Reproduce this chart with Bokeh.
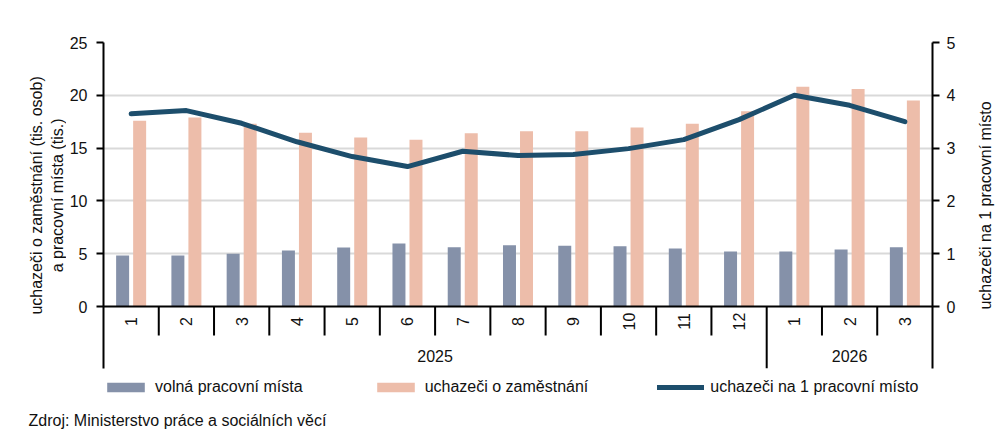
import math
from bokeh.plotting import figure
from bokeh.layouts import row, column
from bokeh.models import (Range1d, LinearAxis, FixedTicker, Span, Legend, LegendItem)
from bokeh.embed import file_html
from bokeh.resources import INLINE
from bokeh.core.properties import value

# ---------------- data ----------------
months = ["1", "2", "3", "4", "5", "6", "7", "8", "9", "10", "11", "12", "1", "2", "3"]
years = ["2025", "2026"]
year_counts = [12, 3]
vacancies = [4.83, 4.83, 5.0, 5.3, 5.59, 5.97, 5.6, 5.8, 5.75, 5.7, 5.5, 5.2, 5.2, 5.4, 5.6]
jobseekers = [17.6, 17.9, 17.3, 16.45, 16.0, 15.8, 16.4, 16.6, 16.6, 16.95, 17.3, 18.5, 20.8, 20.6, 19.5]
ratio = [3.65, 3.71, 3.47, 3.12, 2.84, 2.65, 2.94, 2.86, 2.88, 2.99, 3.16, 3.54, 4.0, 3.81, 3.5]
left_ticks = [0, 5, 10, 15, 20, 25]
right_ticks = [0, 1, 2, 3, 4, 5]
series_names = ["volná pracovní místa", "uchazeči o zaměstnání", "uchazeči na 1 pracovní místo"]
left_title = ["uchazeči o zaměstnání  (tis. osob)", "a pracovní místa  (tis.)"]
right_title = "uchazeči na 1 pracovní místo"
source_text = "Zdroj: Ministerstvo  práce a sociálních věcí"

# ---------------- styles ----------------
FONT = "Liberation Sans"
TXT = "#111111"
C_VAC = "#8591A9"
C_JOB = "#EDBDAA"
C_LINE = "#1D4E6C"
LINE_W = 5

# page geometry (px)
TOTAL_W, TOP_H, BOT_H = 1000, 372, 68
LW, RW = 66, 32
MW = TOTAL_W - LW - RW
PX_LEFT, PX_RIGHT, PX_TOP, PX_ZERO, PX_BOTTOM = 103, 932, 42, 306, 368
n = len(months)
ymax = left_ticks[-1]
rmax = right_ticks[-1]
ppu_y = (PX_ZERO - PX_TOP) / ymax
ybot = -(PX_BOTTOM - PX_ZERO) / ppu_y


def px_y(py):
    return (PX_ZERO - py) / ppu_y


def blank(w, h, x0, x1, y0, y1):
    f = figure(width=w, height=h, output_backend="svg", toolbar_location=None,
               title=None, x_range=Range1d(x0, x1), y_range=Range1d(y0, y1),
               x_axis_location=None, y_axis_location=None, min_border=0)
    f.outline_line_color = None
    f.grid.visible = False
    f.background_fill_color = "white"
    f.border_fill_color = "white"
    return f


# ---------------- main plot ----------------
p = figure(width=MW, height=TOP_H, output_backend="svg", toolbar_location=None,
           title=None, x_range=Range1d(0, n), y_range=Range1d(ybot, ymax),
           x_axis_location=None,
           min_border_left=PX_LEFT - LW, min_border_right=LW + MW - PX_RIGHT,
           min_border_top=PX_TOP, min_border_bottom=TOP_H - PX_BOTTOM)
p.outline_line_color = None
p.background_fill_color = "white"
p.border_fill_color = "white"
p.extra_y_ranges = {"r": Range1d(ybot * rmax / ymax, rmax)}


def style_axis(ax, ticks):
    ax.ticker = FixedTicker(ticks=ticks)
    ax.axis_line_color = "black"
    ax.axis_line_width = 2
    ax.major_tick_line_color = "black"
    ax.major_tick_line_width = 2
    ax.major_tick_in = 0
    ax.major_tick_out = 7
    ax.minor_tick_line_color = None
    ax.major_label_text_font = FONT
    ax.major_label_text_font_size = "16px"
    ax.major_label_text_color = TXT


style_axis(p.yaxis[0], left_ticks)
p.yaxis[0].major_label_standoff = 9
rax = LinearAxis(y_range_name="r")
style_axis(rax, right_ticks)
rax.major_label_standoff = 7
p.add_layout(rax, "right")

p.xgrid.visible = False
p.ygrid.ticker = FixedTicker(ticks=left_ticks[1:])
p.ygrid.grid_line_color = "#D9D9D9"
p.ygrid.grid_line_width = 2
for g in p.grid:
    if g.dimension == 0:
        g.visible = False

centers = [i + 0.5 for i in range(n)]
off = 0.154
bw = 0.235
p.vbar(x=[c - off for c in centers], top=vacancies, bottom=0, width=bw,
       fill_color=C_VAC, line_color=None)
p.vbar(x=[c + off for c in centers], top=jobseekers, bottom=0, width=bw,
       fill_color=C_JOB, line_color=None)
p.line(x=centers, y=ratio, y_range_name="r", line_color=C_LINE,
       line_width=LINE_W, line_join="round", line_cap="round")

# two-level category axis
p.add_layout(Span(location=0, dimension="width", line_color="black", line_width=2))
bounds = []
acc = 0
for cnt in year_counts:
    acc += cnt
    bounds.append(acc)
sep_x, sep_y1 = [], []
for i in range(1, n):
    sep_x.append(i)
    sep_y1.append(ybot if i in bounds else px_y(335))
p.segment(x0=sep_x, y0=[0] * len(sep_x), x1=sep_x, y1=sep_y1,
          line_color="black", line_width=2)
p.text(x=centers, y=[px_y(321)] * n, text=months, angle=math.pi / 2,
       text_align="center", text_baseline="middle", text_font=value(FONT),
       text_font_size="16px", text_color=TXT)
ycent = []
start = 0
for cnt in year_counts:
    ycent.append(start + cnt / 2)
    start += cnt
p.text(x=ycent, y=[px_y(355)] * len(years), text=years, text_align="center",
       text_baseline="middle", text_font=value(FONT), text_font_size="16px",
       text_color=TXT)

# ---------------- side titles ----------------
pl = blank(LW, TOP_H, 0, LW, TOP_H, 0)
pl.text(x=[36, 57], y=[172, 172], text=left_title, angle=math.pi / 2,
        text_align="center", text_baseline="middle", text_font=value(FONT),
        text_font_size="16px", text_color=TXT)
pr = blank(RW, TOP_H, TOTAL_W - RW, TOTAL_W, TOP_H, 0)
pr.text(x=[985], y=[186], text=[right_title], angle=math.pi / 2,
        text_align="center", text_baseline="middle", text_font=value(FONT),
        text_font_size="16px", text_color=TXT)

# ---------------- legend + source ----------------
pb = blank(TOTAL_W, BOT_H, 0, TOTAL_W, TOP_H + BOT_H, TOP_H)
y_hidden = TOP_H + BOT_H
lb = pb.vbar(x=[0], top=[y_hidden], bottom=[y_hidden], width=0,
             fill_color=C_VAC, line_color=None)
lj = pb.vbar(x=[0], top=[y_hidden], bottom=[y_hidden], width=0,
             fill_color=C_JOB, line_color=None)
ll = pb.line(x=[0], y=[y_hidden], line_color=C_LINE, line_width=LINE_W,
             line_cap="round")
legend = Legend(items=[LegendItem(label=series_names[0], renderers=[lb]),
                       LegendItem(label=series_names[1], renderers=[lj]),
                       LegendItem(label=series_names[2], renderers=[ll])],
                orientation="horizontal", location=(102, 44), padding=0, margin=0,
                spacing=69, label_standoff=6, glyph_width=47, glyph_height=12,
                border_line_color=None, background_fill_alpha=0,
                label_text_font=FONT, label_text_font_size="16px",
                label_text_color=TXT)
pb.add_layout(legend, "center")
pb.text(x=[28], y=[420], text=[source_text], text_align="left",
        text_baseline="middle", text_font=value(FONT), text_font_size="16px",
        text_color=TXT)

layout = column(row(pl, p, pr), pb)
open("out.html", "w").write(file_html(layout, INLINE))
